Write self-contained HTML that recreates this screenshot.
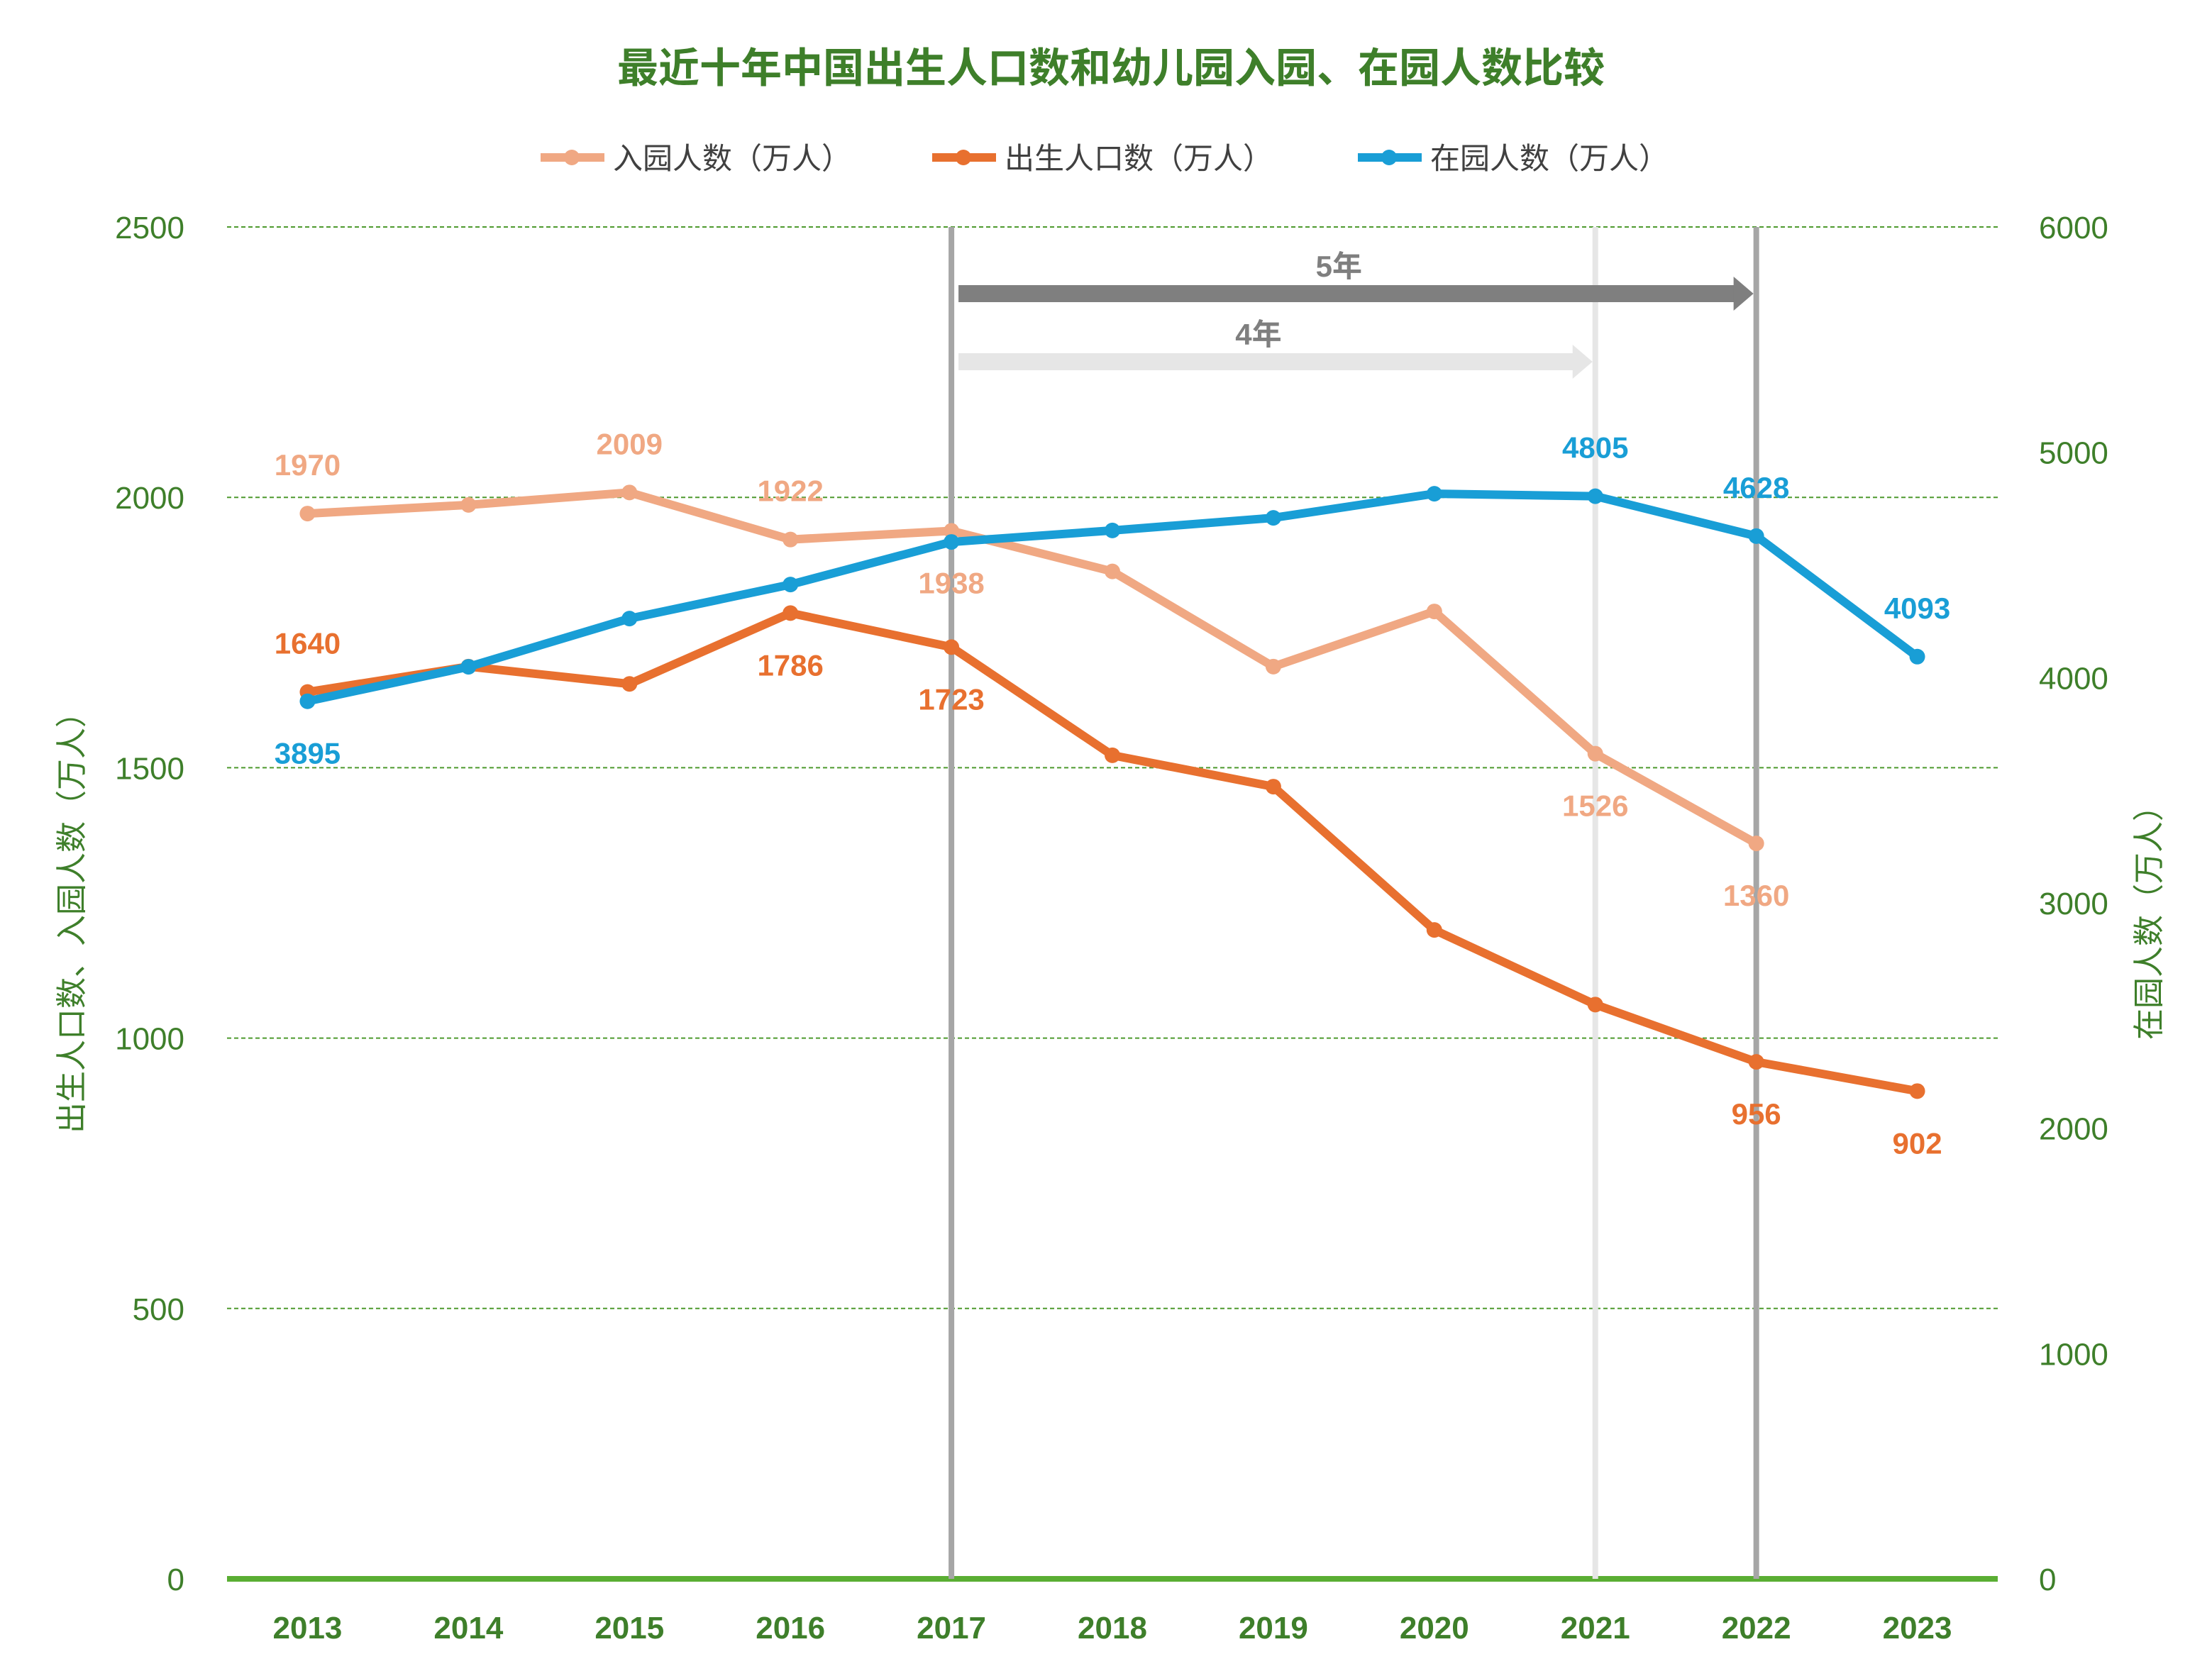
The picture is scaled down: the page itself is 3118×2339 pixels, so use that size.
<!DOCTYPE html>
<html><head><meta charset="utf-8">
<style>
html,body{margin:0;padding:0;background:#fff;}
svg{display:block;font-family:"Liberation Sans","Noto Sans CJK SC",sans-serif;}
</style></head>
<body>
<svg id="chart" width="3118" height="2339" viewBox="0 0 1559 1169.5" xmlns="http://www.w3.org/2000/svg">
<rect x="0" y="0" width="1559" height="1169.5" fill="#fff"/>
<text x="783" y="58" text-anchor="middle" font-size="29" font-weight="bold" fill="#3E7F2A">最近十年中国出生人口数和幼儿园入园、在园人数比较</text>
<g id="grid"></g>
<g id="refs"></g>
<g id="series"></g>
<g id="legend"></g>
<text transform="translate(58,645) rotate(-90)" text-anchor="middle" font-size="22" fill="#3E7F2A">出生人口数、入园人数（万人）</text>
<text transform="translate(1522,645) rotate(-90)" text-anchor="middle" font-size="22" fill="#3E7F2A">在园人数（万人）</text>
</svg>
<script>
const years = ['2013','2014','2015','2016','2017','2018','2019','2020','2021','2022','2023'];
const enrollNew = [1970,1986,2009,1922,1938,1863,1687,1789,1526,1360,null];
const births = [1640,1687,1655,1786,1723,1523,1465,1200,1062,956,902];
const enrolled = [3895,4048,4262,4413,4602,4653,4709,4816,4805,4628,4093];
const enrollNewLabels = ['1970',null,'2009','1922','1938',null,null,null,'1526','1360',null];
const enrollNewLabelPos = ['up',null,'up','up','down',null,null,null,'down','down',null];
const birthLabels = ['1640',null,null,'1786','1723',null,null,null,null,'956','902'];
const birthLabelPos = ['up',null,null,'down','down',null,null,null,null,'down','down'];
const enrolledLabels = ['3895',null,null,null,null,null,null,null,'4805','4628','4093'];
const enrolledLabelPos = ['down',null,null,null,null,null,null,null,'up','up','up'];
const leftTicks = [0,500,1000,1500,2000,2500];
const rightTicks = [0,1000,2000,3000,4000,5000,6000];

const NS='http://www.w3.org/2000/svg';
const X0=160,X1=1408,Y0=1113,Y1=160;
const bw=(X1-X0)/years.length;
const xs=i=>X0+bw*(i+0.5);
const yL=v=>Y0-(v/2500)*(Y0-Y1);
const yR=v=>Y0-(v/6000)*(Y0-Y1);
function mk(tag,attrs,parent){const e=document.createElementNS(NS,tag);for(const k in attrs)e.setAttribute(k,attrs[k]);parent.appendChild(e);return e;}
const grid=document.getElementById('grid');
leftTicks.forEach(t=>{
  if(t>0){const l=mk('line',{x1:X0,x2:X1,y1:yL(t),y2:yL(t),stroke:'#4E9A2E','stroke-width':1,'stroke-dasharray':'3,2'},grid);
  
  }
  const tx=mk('text',{x:130,y:yL(t)+8,'text-anchor':'end','font-size':22,fill:'#3E7F2A'},grid);tx.textContent=t;
  
  
});
rightTicks.forEach(t=>{
  const tx=mk('text',{x:1437,y:yR(t)+8,'text-anchor':'start','font-size':22,fill:'#3E7F2A'},grid);tx.textContent=t;
  
  
});
const ax=mk('line',{x1:X0,x2:X1,y1:Y0,y2:Y0,stroke:'#5AAE33','stroke-width':4},grid);


years.forEach((y,i)=>{
  const tx=mk('text',{x:xs(i),y:1155,'text-anchor':'middle','font-size':22,'font-weight':'bold',fill:'#3E7F2A'},grid);tx.textContent=y;
  
  
});
const refs=document.getElementById('refs');
[[4,'#A6A6A6'],[8,'#E6E6E6'],[9,'#A6A6A6']].forEach(([i,c])=>{
  const l=mk('line',{x1:xs(i),x2:xs(i),y1:Y1,y2:Y0,stroke:c,'stroke-width':4},refs);
  
  
});
function arrow(xa,xb,y,c,label,name){
  const g=mk('g',{},refs);
  
  
  mk('rect',{x:xa,y:y-6,width:xb-xa-12,height:12,fill:c},g);
  mk('polygon',{points:`${xb-14},${y-12} ${xb},${y} ${xb-14},${y+12}`,fill:c},g);
  const t=mk('text',{x:(xa+xb)/2-12,y:y-12,'text-anchor':'middle','font-size':21,'font-weight':'bold',fill:'#7F7F7F'},g);t.textContent=label;
}
arrow(xs(4)+5,xs(9)-2,207,'#7F7F7F','5年','arrow-5-years');
arrow(xs(4)+5,xs(8)-2,255,'#E6E6E6','4年','arrow-4-years');
const ser=document.getElementById('series');
function drawSeries(vals,labels,pos,yf,color,name){
  const g=mk('g',{},ser);
  
  
  const pts=vals.map((v,i)=>v==null?null:[xs(i),yf(v)]).filter(p=>p);
  const pl=mk('polyline',{points:pts.map(p=>p.join(',')).join(' '),fill:'none',stroke:color,'stroke-width':6,'stroke-linejoin':'round'},g);
  
  
  vals.forEach((v,i)=>{
    if(v==null)return;
    const c=mk('circle',{cx:xs(i),cy:yf(v),r:5.5,fill:color},g);
    
    
    if(labels[i]){
      const dy=pos[i]==='up'?-34:37;
      const t=mk('text',{x:xs(i),y:yf(v)+dy+7,'text-anchor':'middle','font-size':21,'font-weight':'bold',fill:color},g);
      t.textContent=labels[i];
      
      
    }
  });
}
drawSeries(enrollNew,enrollNewLabels,enrollNewLabelPos,yL,'#F0A883','enroll-new');
drawSeries(births,birthLabels,birthLabelPos,yL,'#E8702F','births');
drawSeries(enrolled,enrolledLabels,enrolledLabelPos,yR,'#199ED6','enrolled');
const lg=document.getElementById('legend');
[[381,'#F0A883','入园人数（万人）','legend-enroll-new'],[657,'#E8702F','出生人口数（万人）','legend-births'],[957,'#199ED6','在园人数（万人）','legend-enrolled']].forEach(([x,c,t,n])=>{
  const g=mk('g',{},lg);
  
  
  mk('line',{x1:x,x2:x+45,y1:111,y2:111,stroke:c,'stroke-width':6},g);
  mk('circle',{cx:x+22,cy:111,r:5.5,fill:c},g);
  const tx=mk('text',{x:x+51,y:119,'font-size':21,fill:'#404040'},g);tx.textContent=t;
});
</script>
</body></html>
